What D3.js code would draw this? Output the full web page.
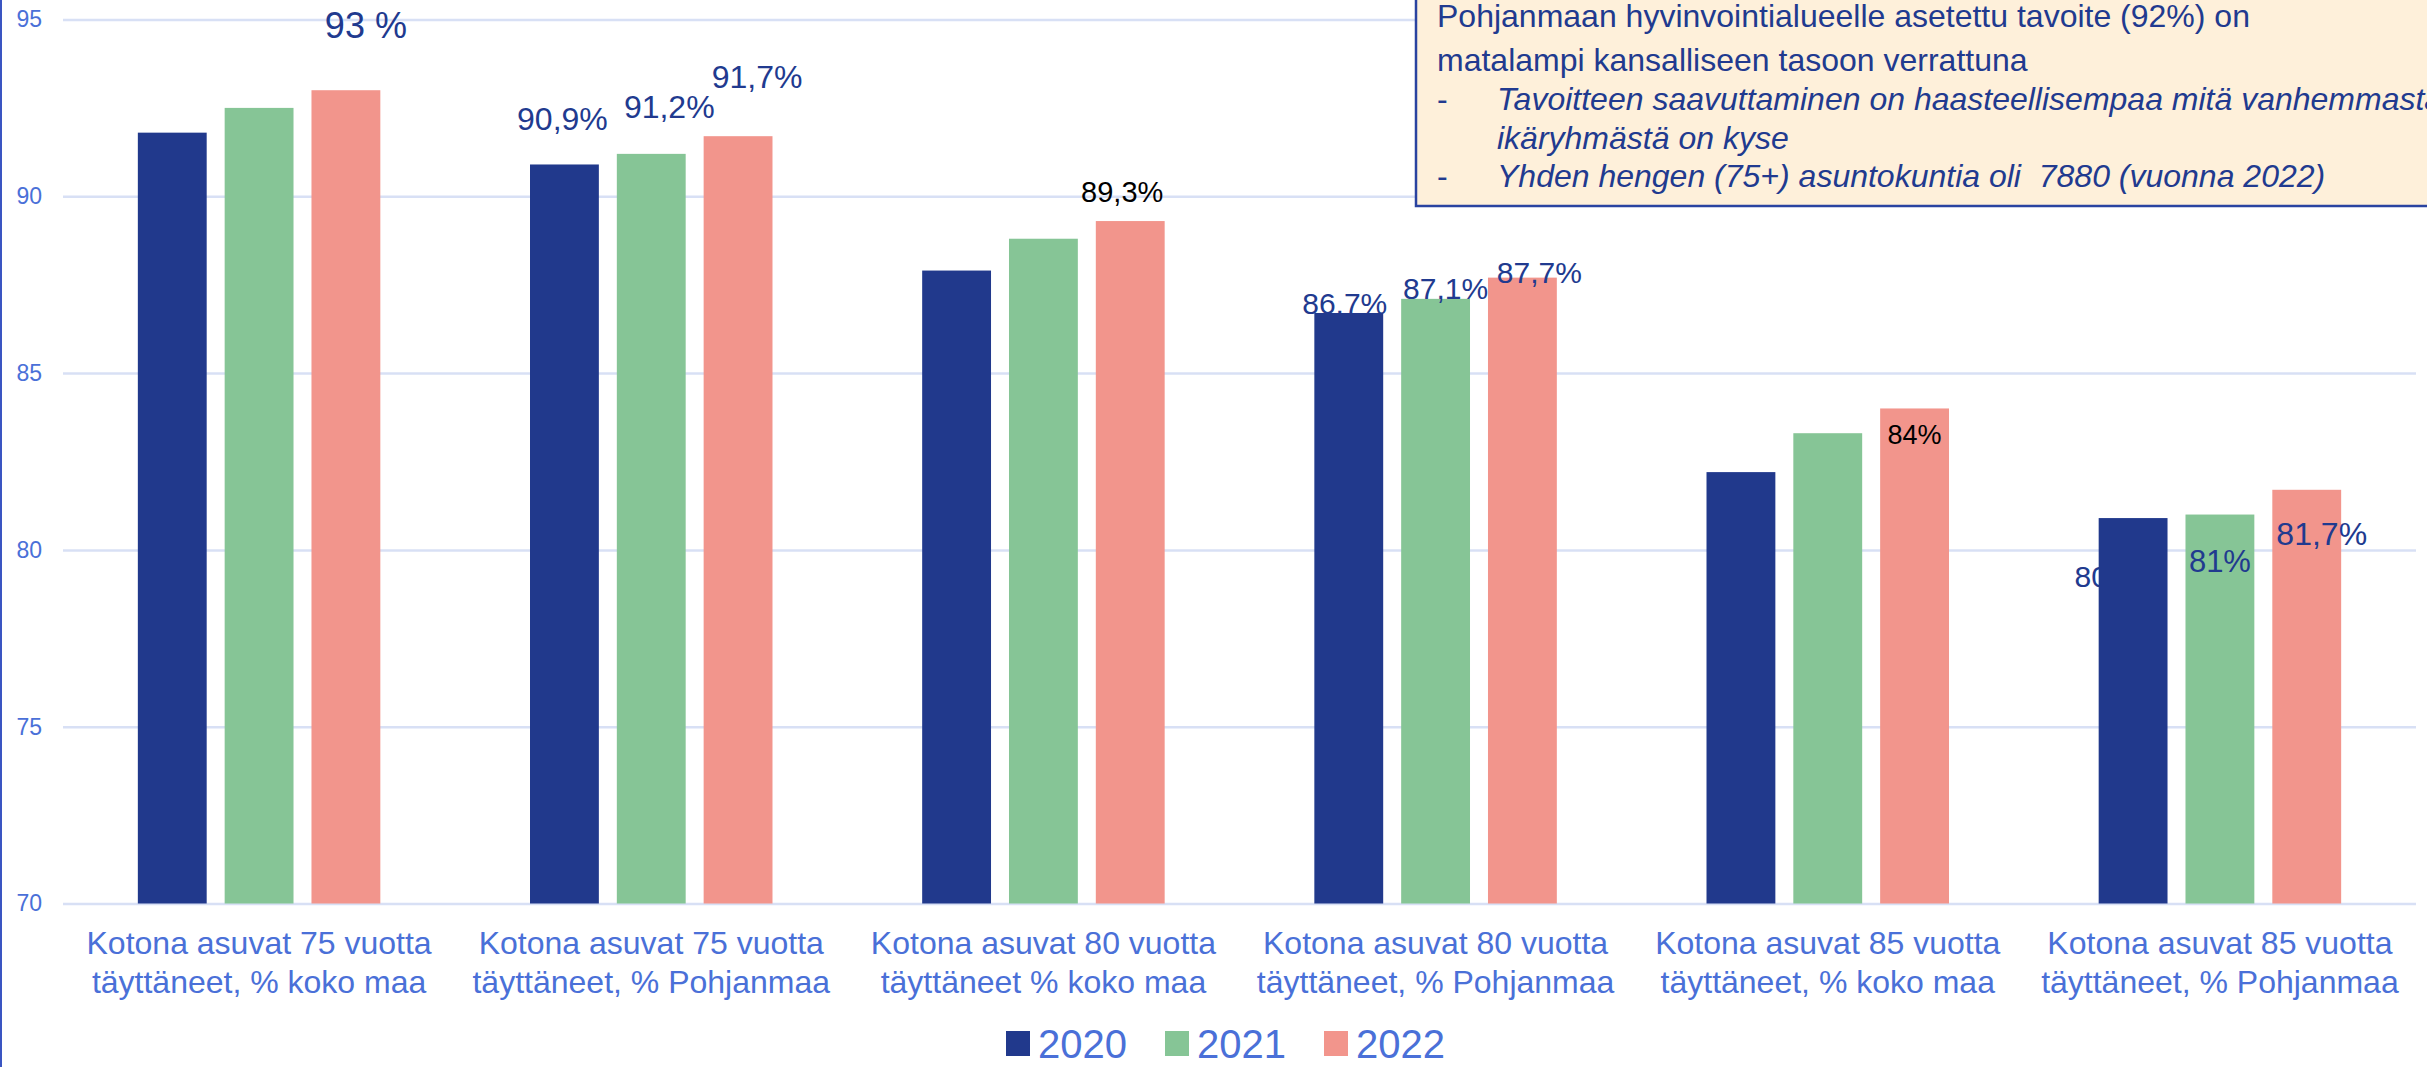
<!DOCTYPE html>
<head>
  <meta charset="utf-8">
  <script src="https://d3js.org/d3.v7.min.js"></script>
<style>
    body {
        margin: 0;
        background: #fff;
        font-family: "Liberation Sans", Arial, sans-serif;
    }
    .grid line {
        stroke: #d8e0f5;
        stroke-width: 2.5px;
    }
    .grid text {
        fill: #4a70d8;
        font-size: 23px;
    }
    .cat {
        fill: #4a70d8;
        font-size: 32px;
    }
    .note text {
        fill: #213a8f;
        font-size: 32px;
        white-space: pre;
    }
</style>
</head>

<body>
  <script>

var width = 2427;
var height = 1067;

// data
var categories = [
    "Kotona asuvat 75 vuotta|täyttäneet, % koko maa",
    "Kotona asuvat 75 vuotta|täyttäneet, % Pohjanmaa",
    "Kotona asuvat 80 vuotta|täyttäneet % koko maa",
    "Kotona asuvat 80 vuotta|täyttäneet, % Pohjanmaa",
    "Kotona asuvat 85 vuotta|täyttäneet, % koko maa",
    "Kotona asuvat 85 vuotta|täyttäneet, % Pohjanmaa"
];
var years = ["2020", "2021", "2022"];
var values2020 = [91.8, 90.9, 87.9, 86.7, 82.2, 80.9];
var values2021 = [92.5, 91.2, 88.8, 87.1, 83.3, 81.0];
var values2022 = [93.0, 91.7, 89.3, 87.7, 84.0, 81.7];
var labels2020 = [null, "90,9%", null, "86,7%", null, "80,9%"];
var labels2021 = [null, "91,2%", null, "87,1%", null, "81%"];
var labels2022 = ["93 %", "91,7%", "89,3%", "87,7%", "84%", "81,7%"];
var yTicks = [70, 75, 80, 85, 90, 95];
var noteTitle = ["Pohjanmaan hyvinvointialueelle asetettu tavoite (92%) on",
                 "matalampi kansalliseen tasoon verrattuna"];
var noteBullets = [["Tavoitteen saavuttaminen on haasteellisempaa mitä vanhemmasta", "ikäryhmästä on kyse"],
                   ["Yhden hengen (75+) asuntokuntia oli  7880 (vuonna 2022)"]];

var colors = {"2020": "#21398c", "2021": "#86c596", "2022": "#f2958c"};

// label placement relative to bar top (group-year)
var labelStyle = {
    "0-2": {dx: 20, dy: -52, size: 36},
    "1-0": {dx: -2, dy: -34, size: 32},
    "1-1": {dx: 18, dy: -36, size: 32},
    "1-2": {dx: 19, dy: -48, size: 32},
    "2-2": {dx: -8, dy: -19, size: 29, color: "#000"},
    "3-0": {dx: -4, dy: 1, size: 30},
    "3-1": {dx: 10, dy: 0, size: 30},
    "3-2": {dx: 17, dy: 5, size: 30},
    "4-2": {dx: 0, dy: 36, size: 27, color: "#000"},
    "5-0": {dx: -16, dy: 69, size: 30, under: true},
    "5-1": {dx: 0, dy: 57, size: 31},
    "5-2": {dx: 15, dy: 55, size: 32}
};

var series = [values2020, values2021, values2022];
var labels = [labels2020, labels2021, labels2022];

var rows = [];
categories.forEach(function (c, i) {
    years.forEach(function (y, j) {
        rows.push({cat: c, gi: i, year: y, yi: j, value: series[j][i], label: labels[j][i]});
    });
});

var svg = d3.select("body")
    .append("svg")
    .attr("width", width)
    .attr("height", height);

var x = d3.scaleBand()
    .domain(categories)
    .range([63, 2416]);

var xInner = d3.scaleBand()
    .domain(years)
    .range([0, x.bandwidth()])
    .paddingInner(0.207)
    .paddingOuter(0.862);

var y = d3.scaleLinear()
    .domain([70, 95])
    .range([903.5, 19.5]);

// left rule
svg.append("line")
    .attr("x1", 1).attr("x2", 1)
    .attr("y1", 0).attr("y2", height)
    .attr("stroke", "#3a55c2")
    .attr("stroke-width", 2);

// gridlines + tick labels
var grid = svg.append("g")
    .attr("class", "grid")
    .attr("transform", "translate(63,0)")
    .call(d3.axisLeft(y).tickValues(yTicks).tickSize(-(2416 - 63)).tickPadding(21));
grid.select(".domain").remove();
grid.selectAll("text").attr("font-family", "Liberation Sans, Arial, sans-serif");

function barX(d) { return x(d.cat) + xInner(d.year); }

function labelKey(d) { return d.gi + "-" + d.yi; }

function drawLabels(sel) {
    sel.append("text")
        .attr("x", function (d) { return barX(d) + xInner.bandwidth() / 2 + labelStyle[labelKey(d)].dx; })
        .attr("y", function (d) { return y(d.value) + labelStyle[labelKey(d)].dy; })
        .attr("text-anchor", "middle")
        .style("font-size", function (d) { return labelStyle[labelKey(d)].size + "px"; })
        .attr("fill", function (d) { return labelStyle[labelKey(d)].color || "#213a8f"; })
        .text(function (d) { return d.label; });
}

var withLabel = rows.filter(function (d) { return d.label; });

// labels that sit behind the bars
svg.append("g")
    .selectAll("g")
    .data(withLabel.filter(function (d) { return labelStyle[labelKey(d)].under; }))
    .enter()
    .call(drawLabels);

svg.append("g")
    .selectAll("rect")
    .data(rows)
    .enter()
    .append("rect")
    .attr("x", barX)
    .attr("width", xInner.bandwidth())
    .attr("y", function (d) { return y(d.value); })
    .attr("height", function (d) { return y(70) - y(d.value); })
    .attr("fill", function (d) { return colors[d.year]; });

svg.append("g")
    .selectAll("g")
    .data(withLabel.filter(function (d) { return !labelStyle[labelKey(d)].under; }))
    .enter()
    .call(drawLabels);

// category labels
var cat = svg.append("g")
    .selectAll("text")
    .data(categories)
    .enter()
    .append("text")
    .attr("class", "cat")
    .attr("text-anchor", "middle");
cat.selectAll("tspan")
    .data(function (d) { return d.split("|").map(function (t) { return {t: t, c: d}; }); })
    .enter()
    .append("tspan")
    .attr("x", function (d) { return x(d.c) + x.bandwidth() / 2; })
    .attr("y", function (d, i) { return 954 + i * 39; })
    .text(function (d) { return d.t; });

// legend
var legend = svg.append("g")
    .selectAll("g")
    .data(years)
    .enter()
    .append("g")
    .attr("transform", function (d, i) { return "translate(" + (1006 + i * 159) + ",1031)"; });
legend.append("rect")
    .attr("width", 24)
    .attr("height", 25)
    .attr("fill", function (d) { return colors[d]; });
legend.append("text")
    .attr("x", 32)
    .attr("y", 27)
    .attr("fill", "#4a70d8")
    .style("font-size", "40px")
    .text(function (d) { return d; });

// note box
var note = svg.append("g").attr("class", "note");
note.append("rect")
    .attr("x", 1416)
    .attr("y", -10)
    .attr("width", 1100)
    .attr("height", 216)
    .attr("fill", "#fef0da")
    .attr("stroke", "#2a43a0")
    .attr("stroke-width", 2.5);
note.selectAll(".title")
    .data(noteTitle)
    .enter()
    .append("text")
    .attr("x", 1437)
    .attr("y", function (d, i) { return 27 + i * 44; })
    .text(function (d) { return d; });

var lineY = 110;
noteBullets.forEach(function (b) {
    note.append("text")
        .attr("x", 1437)
        .attr("y", lineY)
        .text("-");
    b.forEach(function (t) {
        note.append("text")
            .attr("x", 1497)
            .attr("y", lineY)
            .style("font-style", "italic")
            .text(t);
        lineY += 38.5;
    });
});

  </script>
</body>
